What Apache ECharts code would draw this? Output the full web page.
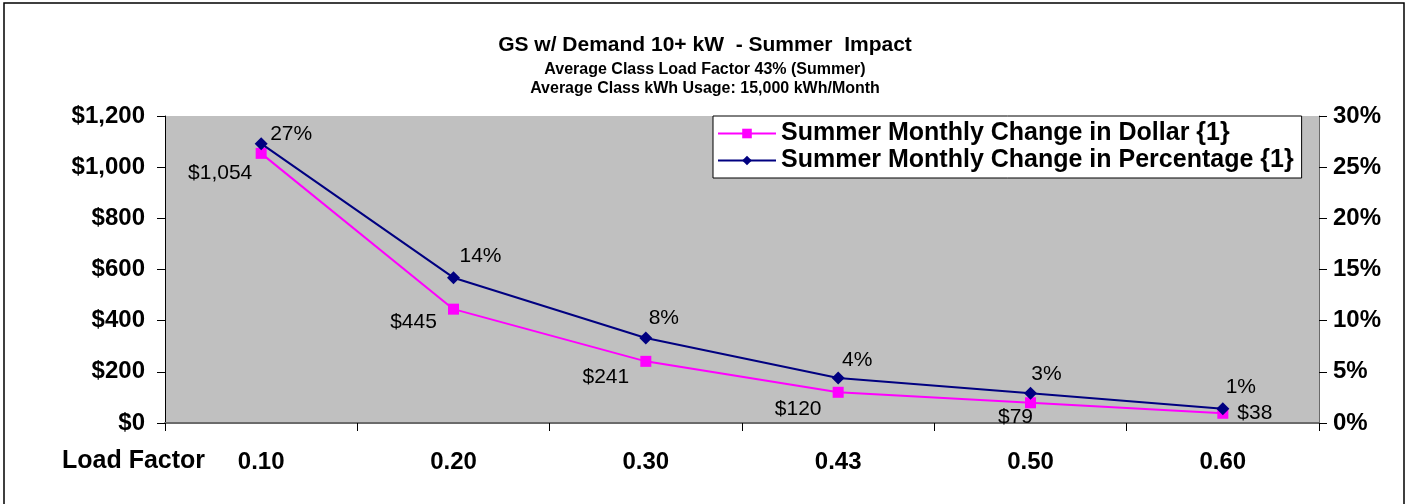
<!DOCTYPE html>
<html>
<head>
<meta charset="utf-8">
<script src="https://cdn.jsdelivr.net/npm/echarts@6/dist/echarts.min.js"></script>
<style>
  html, body { margin: 0; padding: 0; background: #fff; }
  #chart { width: 1410px; height: 504px; }
</style>
</head>
<body>
<div id="chart"></div>
<script>
// data
const loadFactors = ['0.10', '0.20', '0.30', '0.43', '0.50', '0.60']
const dollarChange = [1054, 445, 241, 120, 79, 38]
const percentChange = [27.3, 14.2, 8.3, 4.4, 2.9, 1.4]
const dollarTicks = [0, 200, 400, 600, 800, 1000, 1200]
const percentTicks = [0, 5, 10, 15, 20, 25, 30]

// label placement (offset from the marker), the data labels were hand placed in the original
const dollarLabelOffset = [[-41, 20], [-40, 13], [-40, 16], [-40, 17], [-15, 14], [32, 0]]
const percentLabelOffset = [[30, -9], [27, -21], [18, -20], [19, -18], [16, -19], [18, -21]]

const FONT = 'Arial, "Liberation Sans", sans-serif'

const chart = echarts.init(document.getElementById('chart'))

function money (v) {
  return '$' + v.toLocaleString('en-US')
}

const option = {
  backgroundColor: '#fff',
  animation: false,
  textStyle: { fontFamily: FONT, color: '#000' },
  title: {
    left: 'center',
    top: 29,
    text: 'GS w/ Demand 10+ kW  - Summer  Impact',
    subtext: 'Average Class Load Factor 43% (Summer)\nAverage Class kWh Usage: 15,000 kWh/Month',
    itemGap: 4,
    textStyle: { fontFamily: FONT, fontSize: 21, fontWeight: 'bold', color: '#000', lineHeight: 22 },
    subtextStyle: { fontFamily: FONT, fontSize: 16, fontWeight: 'bold', color: '#000', lineHeight: 19 }
  },
  legend: {
    orient: 'vertical',
    left: 713,
    top: 116,
    padding: [5, 8, 5, 4],
    itemGap: 2,
    itemWidth: 58,
    itemHeight: 12,
    backgroundColor: '#fff',
    borderColor: '#000',
    borderWidth: 1,
    borderRadius: 0,
    textStyle: { fontFamily: FONT, fontSize: 25, fontWeight: 'bold', color: '#000' },
    data: ['Summer Monthly Change in Dollar {1}', 'Summer Monthly Change in Percentage {1}']
  },
  grid: {
    left: 165,
    right: 91,
    top: 116,
    bottom: 81,
    show: true,
    backgroundColor: '#C0C0C0',
    borderWidth: 0
  },
  xAxis: {
    type: 'category',
    data: loadFactors,
    boundaryGap: true,
    axisLine: { lineStyle: { color: '#6b6b6b', width: 2 } },
    axisTick: { show: true, length: 8, lineStyle: { color: '#000' } },
    axisLabel: { margin: 27, fontFamily: FONT, fontSize: 24, fontWeight: 'bold', color: '#000' },
    splitLine: { show: false }
  },
  yAxis: [
    {
      type: 'value',
      min: dollarTicks[0],
      max: dollarTicks[dollarTicks.length - 1],
      interval: dollarTicks[1] - dollarTicks[0],
      axisLine: { show: true, lineStyle: { color: '#000' } },
      axisTick: { show: true, length: 8, lineStyle: { color: '#000' } },
      axisLabel: { margin: 20, fontFamily: FONT, fontSize: 24, fontWeight: 'bold', color: '#000', formatter: money },
      splitLine: { show: false }
    },
    {
      type: 'value',
      position: 'right',
      min: percentTicks[0],
      max: percentTicks[percentTicks.length - 1],
      interval: percentTicks[1] - percentTicks[0],
      axisLine: { show: true, lineStyle: { color: '#6b6b6b' } },
      axisTick: { show: true, length: 8, lineStyle: { color: '#000' } },
      axisLabel: { margin: 14, fontFamily: FONT, fontSize: 24, fontWeight: 'bold', color: '#000', formatter: '{value}%' },
      splitLine: { show: false }
    }
  ],
  series: [
    {
      name: 'Summer Monthly Change in Dollar {1}',
      type: 'line',
      yAxisIndex: 0,
      symbol: 'rect',
      symbolSize: 11,
      color: '#FF00FF',
      lineStyle: { color: '#FF00FF', width: 2 },
      itemStyle: { color: '#FF00FF' },
      data: dollarChange.map((v, i) => ({
        value: v,
        label: { offset: dollarLabelOffset[i] }
      })),
      label: {
        show: true,
        position: 'inside',
        fontFamily: FONT,
        fontSize: 21,
        color: '#000',
        formatter: p => money(p.value)
      },
      z: 3
    },
    {
      name: 'Summer Monthly Change in Percentage {1}',
      type: 'line',
      yAxisIndex: 1,
      symbol: 'diamond',
      symbolSize: 13,
      color: '#000080',
      lineStyle: { color: '#000080', width: 2 },
      itemStyle: { color: '#000080' },
      data: percentChange.map((v, i) => ({
        value: v,
        label: { offset: percentLabelOffset[i] }
      })),
      label: {
        show: true,
        position: 'inside',
        fontFamily: FONT,
        fontSize: 21,
        color: '#000',
        formatter: p => Math.round(p.value) + '%'
      },
      z: 4
    }
  ],
  graphic: [
    {
      type: 'rect',
      shape: { x: 4, y: 3, width: 1400, height: 510 },
      style: { fill: 'none', stroke: '#000', lineWidth: 1.5 },
      silent: true
    },
    {
      type: 'text',
      left: 62,
      top: 449,
      style: { text: 'Load Factor', fontFamily: FONT, fontSize: 25, fontWeight: 'bold', fill: '#000' }
    }
  ]
}

chart.setOption(option)
</script>
</body>
</html>
